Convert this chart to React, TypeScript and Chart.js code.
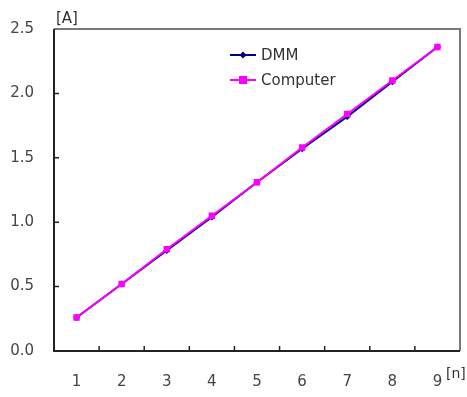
import React, { useEffect, useRef } from "react";
import { Chart, registerables } from "chart.js";

Chart.register(...registerables);

const categories = ["1", "2", "3", "4", "5", "6", "7", "8", "9"];
const dmmValues = [0.26, 0.52, 0.78, 1.04, 1.31, 1.57, 1.82, 2.09, 2.36];
const computerValues = [0.26, 0.52, 0.79, 1.05, 1.31, 1.58, 1.84, 2.10, 2.36];
const yTicks = [0, 0.5, 1.0, 1.5, 2.0, 2.5];
const yUnit = "[A]";
const xUnit = "[n]";
const seriesNames = ["DMM", "Computer"];

const FONT = "'DejaVu Sans', sans-serif";

const framePlugin = {
  id: "frame",
  afterDraw(chart: any) {
    const { ctx, chartArea } = chart;
    const { left, right, top, bottom } = chartArea;
    const xs = chart.scales.x;
    const ys = chart.scales.y;
    ctx.save();
    ctx.strokeStyle = "#7a7a7a";
    ctx.lineWidth = 2;
    ctx.beginPath();
    ctx.moveTo(left, top);
    ctx.lineTo(right, top);
    ctx.lineTo(right, bottom);
    ctx.stroke();
    ctx.strokeStyle = "#222";
    ctx.beginPath();
    ctx.moveTo(left, top);
    ctx.lineTo(left, bottom);
    ctx.lineTo(right, bottom);
    ctx.stroke();
    ctx.lineWidth = 1.5;
    ctx.beginPath();
    for (let i = 1; i < categories.length; i++) {
      const x = (xs.getPixelForValue(i - 1) + xs.getPixelForValue(i)) / 2;
      ctx.moveTo(x, bottom);
      ctx.lineTo(x, bottom - 5);
    }
    for (const v of yTicks) {
      if (v === 0 || v === yTicks[yTicks.length - 1]) continue;
      const y = ys.getPixelForValue(v);
      ctx.moveTo(left, y);
      ctx.lineTo(left + 5, y);
    }
    ctx.stroke();
    ctx.fillStyle = "#333";
    ctx.font = `15px ${FONT}`;
    ctx.textBaseline = "alphabetic";
    ctx.textAlign = "left";
    ctx.fillText(yUnit, left + 2, top - 6);
    ctx.font = `14px ${FONT}`;
    ctx.fillText(xUnit, right - 14, bottom + 27);
    const lx = 230;
    const rows = [
      { y: 55, color: "#000080", style: "diamond", name: seriesNames[0] },
      { y: 80, color: "#ff00ff", style: "square", name: seriesNames[1] },
    ];
    for (const r of rows) {
      ctx.strokeStyle = r.color;
      ctx.fillStyle = r.color;
      ctx.lineWidth = 2;
      ctx.beginPath();
      ctx.moveTo(lx, r.y);
      ctx.lineTo(lx + 26, r.y);
      ctx.stroke();
      const cx = lx + 13;
      ctx.beginPath();
      if (r.style === "diamond") {
        ctx.moveTo(cx, r.y - 3.5);
        ctx.lineTo(cx + 3.5, r.y);
        ctx.lineTo(cx, r.y + 3.5);
        ctx.lineTo(cx - 3.5, r.y);
        ctx.closePath();
      } else {
        ctx.rect(cx - 4, r.y - 4, 8, 8);
      }
      ctx.fill();
      ctx.fillStyle = "#333";
      ctx.font = `15px ${FONT}`;
      ctx.textBaseline = "middle";
      ctx.fillText(r.name, lx + 31, r.y + 1);
    }
    ctx.restore();
  },
};

export default function App() {
  const ref = useRef<HTMLCanvasElement>(null);
  useEffect(() => {
    if (!ref.current) return;
    const chart = new Chart(ref.current, {
      type: "line",
      data: {
        labels: categories,
        datasets: [
          {
            label: seriesNames[0],
            data: dmmValues,
            borderColor: "#000080",
            backgroundColor: "#000080",
            borderWidth: 2,
            pointStyle: "rectRot",
            pointRadius: 3.5,
            pointBorderWidth: 0,
            tension: 0,
            order: 2,
          },
          {
            label: seriesNames[1],
            data: computerValues,
            borderColor: "#ff00ff",
            backgroundColor: "#ff00ff",
            borderWidth: 2,
            pointStyle: "rect",
            pointRadius: 4.5,
            pointBorderWidth: 0,
            tension: 0,
            order: 1,
          },
        ],
      },
      plugins: [framePlugin],
      options: {
        animation: false,
        responsive: false,
        devicePixelRatio: 1,
        layout: { padding: { left: 0, right: 7, top: 25, bottom: 0 } },
        plugins: {
          legend: { display: false },
          tooltip: { enabled: false },
        },
        scales: {
          x: {
            type: "category",
            offset: true,
            grid: { display: false, drawTicks: false },
            border: { display: false },
            ticks: {
              color: "#444",
              font: { family: FONT, size: 15 },
              padding: 22,
              maxRotation: 0,
              autoSkip: false,
            },
            afterFit: (s: any) => {
              s.height = 46;
            },
          },
          y: {
            min: 0,
            max: 2.5,
            grid: { display: false, drawTicks: false },
            border: { display: false },
            ticks: {
              stepSize: 0.5,
              color: "#444",
              font: { family: FONT, size: 15 },
              padding: 20,
              callback: (v: any) => Number(v).toFixed(1),
            },
            afterFit: (s: any) => {
              s.width = 54;
            },
          },
        },
      },
    });
    return () => chart.destroy();
  }, []);
  return (
    <div style={{ position: "fixed", left: 0, top: 0, width: 467, height: 397, background: "#fff" }}>
      <canvas ref={ref} width={467} height={397} style={{ width: 467, height: 397 }} />
    </div>
  );
}
